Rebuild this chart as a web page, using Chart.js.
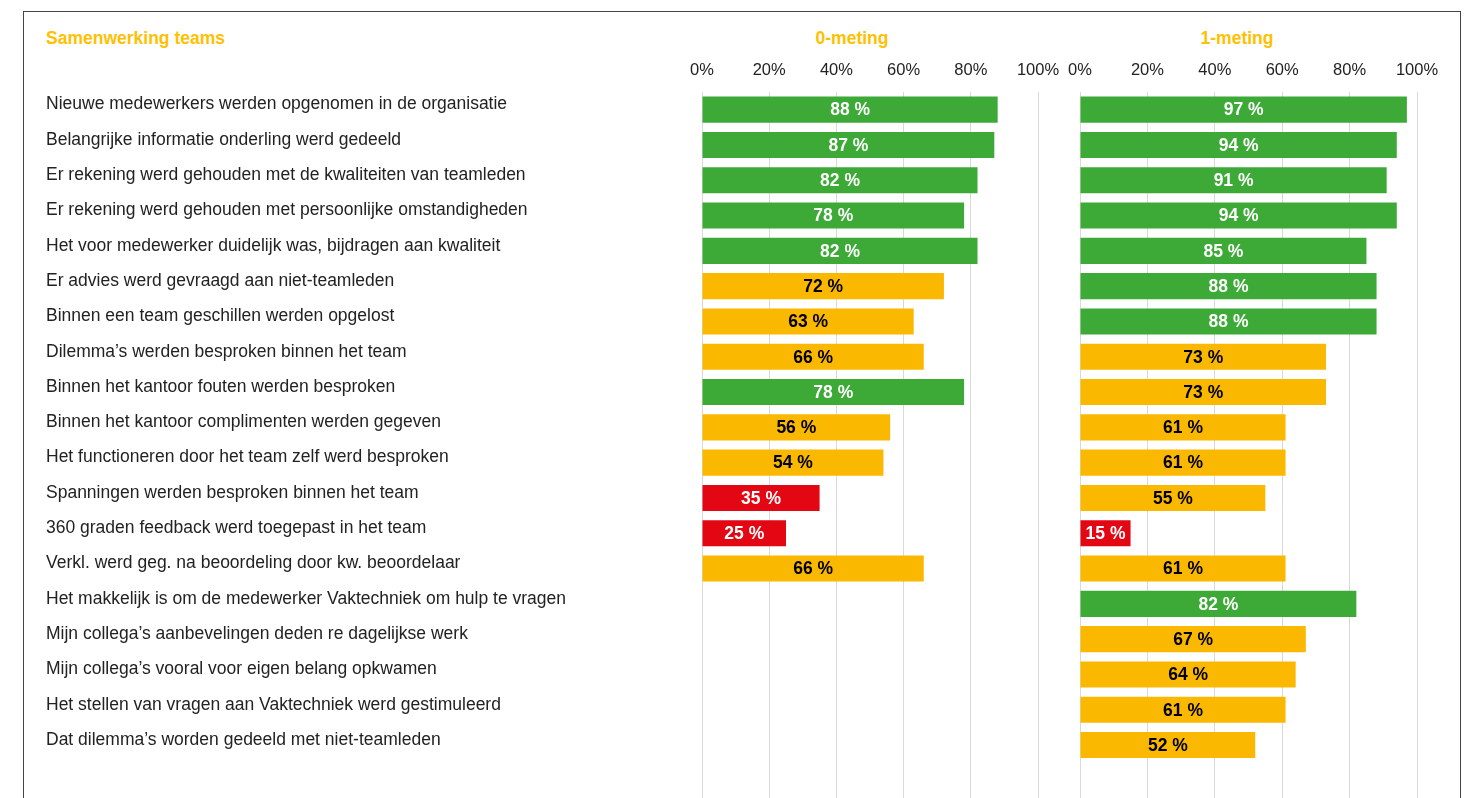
<!DOCTYPE html>
<html>
<head>
<meta charset="utf-8">
<script src="https://cdn.jsdelivr.net/npm/chart.js@4.4.1/dist/chart.umd.min.js"></script>
<style>
  html, body { margin: 0; padding: 0; background: #fff; overflow: hidden; }
  body { width: 1471px; height: 798px; position: relative; font-family: Arial, "Liberation Sans", sans-serif; }
  #kader { position: absolute; left: 23px; top: 11px; width: 1438px; height: 830px; border: 1px solid #444; box-sizing: border-box; }
  .kop { position: absolute; top: 27px; font-weight: bold; font-size: 17.5px; line-height: 22px; color: #FFC000; }
  #grafiekA { position: absolute; left: 0; top: 0; }
  #grafiekB { position: absolute; left: 1050px; top: 0; }
</style>
</head>
<body>
<div id="kader"></div>
<div class="kop" style="left:46px">Samenwerking teams</div>
<div class="kop" style="left:752px;width:200px;text-align:center">0-meting</div>
<div class="kop" style="left:1137px;width:200px;text-align:center">1-meting</div>
<canvas id="grafiekA" width="1060" height="798"></canvas>
<canvas id="grafiekB" width="410" height="798"></canvas>
<script>
var vragen = [
    'Nieuwe medewerkers werden opgenomen in de organisatie',
    'Belangrijke informatie onderling werd gedeeld',
    'Er rekening werd gehouden met de kwaliteiten van teamleden',
    'Er rekening werd gehouden met persoonlijke omstandigheden',
    'Het voor medewerker duidelijk was, bijdragen aan kwaliteit',
    'Er advies werd gevraagd aan niet-teamleden',
    'Binnen een team geschillen werden opgelost',
    'Dilemma\u2019s werden besproken binnen het team',
    'Binnen het kantoor fouten werden besproken',
    'Binnen het kantoor complimenten werden gegeven',
    'Het functioneren door het team zelf werd besproken',
    'Spanningen werden besproken binnen het team',
    '360 graden feedback werd toegepast in het team',
    'Verkl. werd geg. na beoordeling door kw. beoordelaar',
    'Het makkelijk is om de medewerker Vaktechniek om hulp te vragen',
    'Mijn collega\u2019s aanbevelingen deden re dagelijkse werk',
    'Mijn collega\u2019s vooral voor eigen belang opkwamen',
    'Het stellen van vragen aan Vaktechniek werd gestimuleerd',
    'Dat dilemma\u2019s worden gedeeld met niet-teamleden'
];
var meting0 = [88, 87, 82, 78, 82, 72, 63, 66, 78, 56, 54, 35, 25, 66];
var meting1 = [97, 94, 91, 94, 85, 88, 88, 73, 73, 61, 61, 55, 15, 61, 82, 67, 64, 61, 52];
var tickLabels = ['0%', '20%', '40%', '60%', '80%', '100%'];

var groen = '#3DAA37';
var geel = '#FBB800';
var rood = '#E30613';
var lettertype = 'Arial, "Liberation Sans", sans-serif';

Chart.defaults.font.family = lettertype;

function kleur(v) {
    if (v >= 75) return groen;
    if (v >= 50) return geel;
    return rood;
}

// lege laatste rij zodat het raster doorloopt tot onderaan
var rijen = vragen.concat(['']);

var waardeLabels = {
    id: 'waardeLabels',
    afterDatasetsDraw: function (chart) {
        var ctx = chart.ctx;
        var meta = chart.getDatasetMeta(0);
        var data = chart.data.datasets[0].data;
        ctx.save();
        ctx.font = 'bold 17.5px ' + lettertype;
        ctx.textAlign = 'center';
        ctx.textBaseline = 'middle';
        meta.data.forEach(function (bar, i) {
            var v = data[i];
            if (v == null) return;
            ctx.fillStyle = kleur(v) === geel ? '#000' : '#fff';
            ctx.fillText(v + ' %', (bar.x + bar.base) / 2, bar.y + 1);
        });
        ctx.restore();
    }
};

function maakGrafiek(id, waarden, metVragen, links, rechts) {
    var ctx = document.getElementById(id).getContext('2d');
    return new Chart(ctx, {
        type: 'bar',
        data: {
            labels: rijen,
            datasets: [{
                data: waarden,
                backgroundColor: waarden.map(kleur),
                barPercentage: 0.74,
                categoryPercentage: 1
            }]
        },
        options: {
            indexAxis: 'y',
            responsive: false,
            animation: false,
            layout: { padding: { left: links, right: rechts, top: 0, bottom: 0 } },
            plugins: {
                legend: { display: false },
                tooltip: { enabled: false }
            },
            scales: {
                x: {
                    position: 'top',
                    min: 0,
                    max: 100,
                    border: { display: false },
                    grid: { color: '#d9d9d9', drawTicks: false },
                    ticks: {
                        stepSize: 20,
                        padding: 12,
                        color: '#222',
                        font: { size: 16.5 },
                        callback: function (value, index) { return tickLabels[index]; }
                    },
                    afterFit: function (s) {
                        s.height = 92;
                        s.paddingLeft = 0;
                        s.paddingRight = 0;
                    }
                },
                y: {
                    display: metVragen,
                    border: { display: false },
                    grid: { display: false },
                    ticks: {
                        crossAlign: 'far',
                        padding: 0,
                        labelOffset: -5,
                        color: '#222',
                        font: { size: 17.5 }
                    },
                    afterFit: function (s) {
                        if (metVragen) s.width = 656;
                        s.paddingTop = 0;
                        s.paddingBottom = 0;
                    }
                }
            }
        },
        plugins: [waardeLabels]
    });
}

maakGrafiek('grafiekA', meting0, true, 46, 22);
maakGrafiek('grafiekB', meting1, false, 30, 43);
</script>
</body>
</html>
